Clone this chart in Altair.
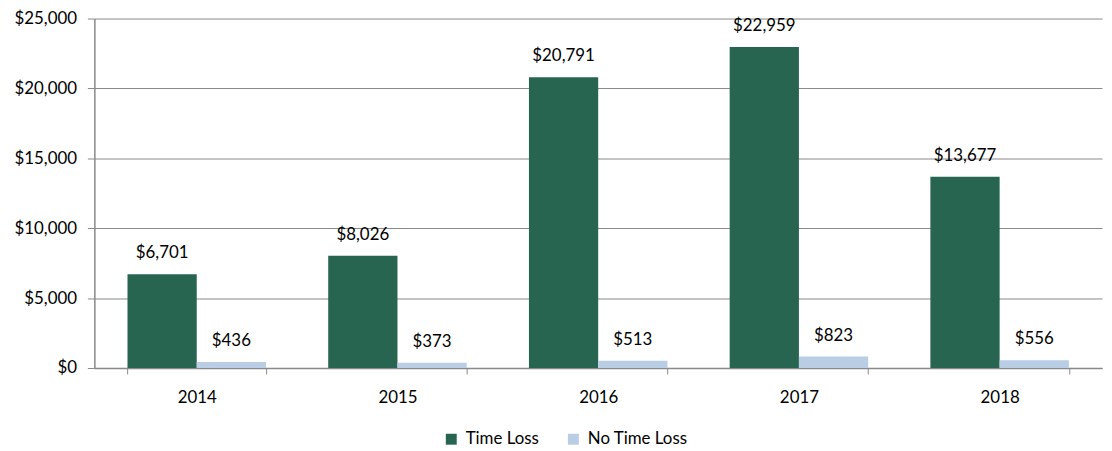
import altair as alt
import pandas as pd

years = ["2014", "2015", "2016", "2017", "2018"]
time_loss = [6701, 8026, 20791, 22959, 13677]
no_time_loss = [436, 373, 513, 823, 556]
series = ["Time Loss", "No Time Loss"]
colors = ["#276550", "#b9cde5"]

rows = []
for i, y in enumerate(years):
    rows.append({"year": y, "series": series[0], "value": time_loss[i]})
    rows.append({"year": y, "series": series[1], "value": no_time_loss[i]})
df = pd.DataFrame(rows)

FONT = "Lato"
FS = 17

x = alt.X("year:N", title=None, sort=years,
          scale=alt.Scale(paddingInner=0.31, paddingOuter=0.165),
          axis=alt.Axis(labelAngle=0, labelFont=FONT, labelFontSize=FS, labelColor="#000000",
                        labelPadding=16, domainColor="#898989", tickColor="#898989",
                        tickBand="extent", tickSize=6, grid=False))
y = alt.Y("value:Q", title=None,
          scale=alt.Scale(domain=[0, 25000], nice=False),
          axis=alt.Axis(values=[0, 5000, 10000, 15000, 20000, 25000], format="$,.0f",
                        labelFont=FONT, labelFontSize=FS, labelColor="#000000",
                        labelPadding=11, domainColor="#898989", tickColor="#898989",
                        tickSize=7, gridColor="#898989", gridWidth=1))
xo = alt.XOffset("series:N", sort=series)

base = alt.Chart(df).encode(x=x, xOffset=xo)

bars = base.mark_bar().encode(
    y=y,
    color=alt.Color("series:N", sort=series, title=None,
                    scale=alt.Scale(domain=series, range=colors),
                    legend=alt.Legend(orient="none", legendX=351, legendY=415,
                                      direction="horizontal", symbolType="square",
                                      symbolSize=121, symbolStrokeWidth=0,
                                      labelFont=FONT, labelFontSize=FS, labelColor="#000000",
                                      columnPadding=26, labelOffset=6)),
)

labels = base.mark_text(baseline="bottom", dy=-12, font=FONT, fontSize=FS, color="#000000").encode(
    y=alt.Y("value:Q"),
    text=alt.Text("value:Q", format="$,.0f"),
)

chart = (bars + labels).properties(
    width=1015, height=352,
    autosize=alt.AutoSizeParams(type="none"),
    padding={"left": 87, "top": 9, "right": 2, "bottom": 82},
).configure_view(stroke=None).configure_axis(domainWidth=1.5)

chart.save("out.html", embed_options={"renderer": "svg", "actions": False})
